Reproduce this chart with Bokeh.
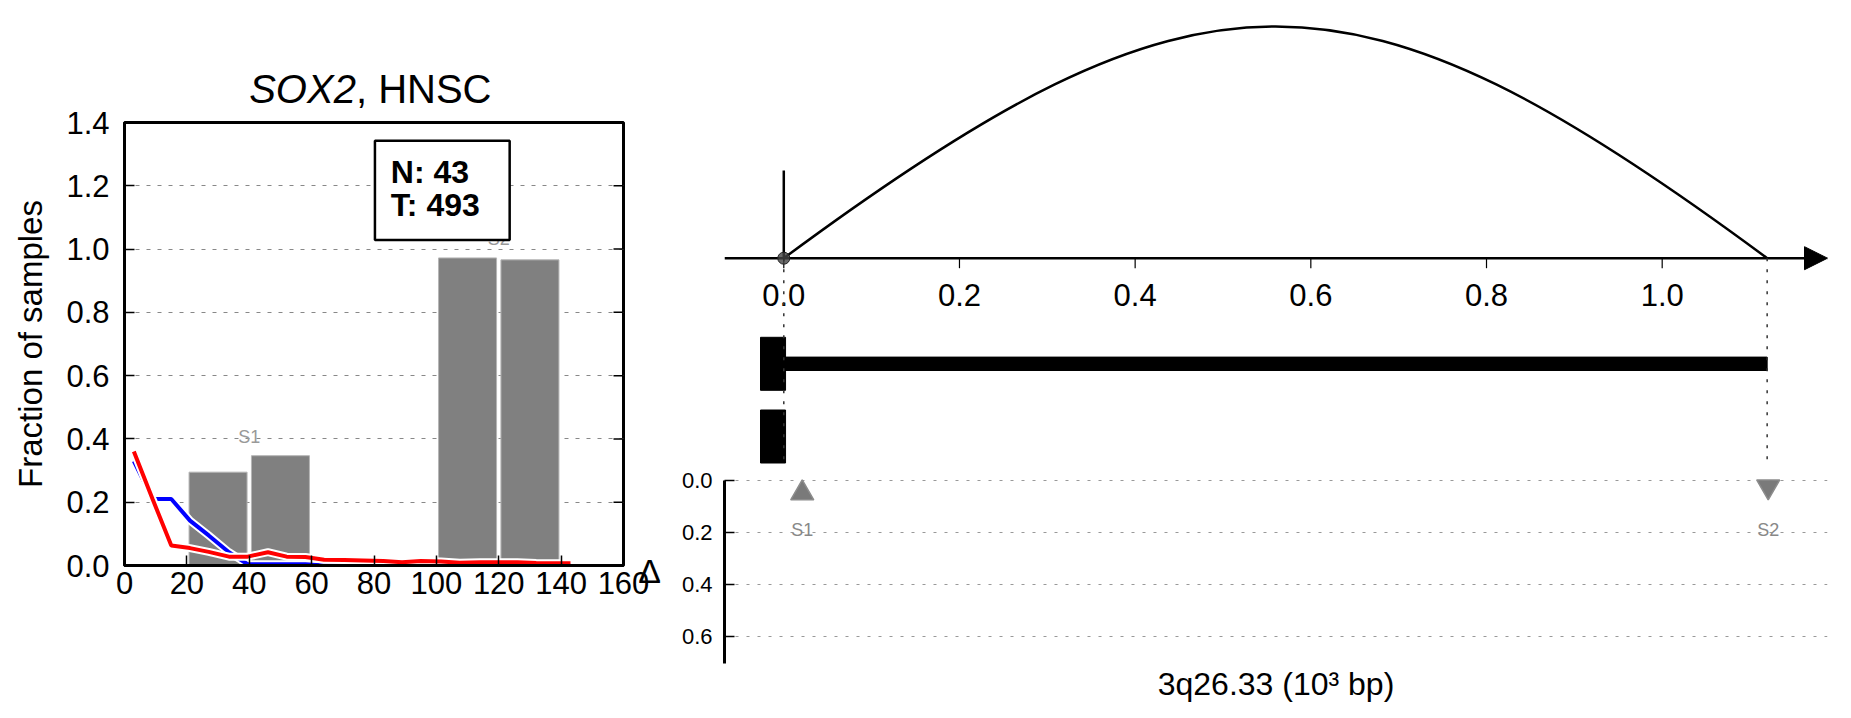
from bokeh.plotting import figure
from bokeh.layouts import row, column
from bokeh.models import Range1d, FixedTicker, Arrow, NormalHead, PrintfTickFormatter
from bokeh.core.properties import value
from bokeh.embed import file_html
from bokeh.resources import INLINE

FONT = "Liberation Sans"

# ---------------- left panel data ----------------
bin_x = [3, 9, 15, 21, 27, 33.5, 39.5, 46, 52, 58, 64, 70.5, 76.5, 83, 89, 95,
         101.5, 107.5, 114, 120, 126, 132, 138.5, 143]
normal_frac = [0.33, 0.21, 0.21, 0.142, 0.095, 0.042, 0.004, 0.004, 0.004, 0.004,
               0.0, 0.0, 0.0, 0.0, 0.0, 0.0, 0.0, 0.0, 0.0, 0.0, 0.0, 0.0, 0.0, 0.0]
tumor_frac = [0.36, 0.21, 0.063, 0.055, 0.043, 0.028, 0.028, 0.042, 0.028, 0.027,
              0.018, 0.017, 0.016, 0.014, 0.010, 0.014, 0.013, 0.009, 0.010, 0.010,
              0.010, 0.008, 0.007, 0.007]
seg_center = [30, 50, 110, 130]
seg_frac = [0.295, 0.347, 0.972, 0.966]
seg_label = ["S1", "S2"]
seg_label_x = [40, 120]
seg_label_y = [0.405, 1.031]
n_normal = 43
n_tumor = 493
gene = "SOX2"
cancer = "HNSC"
left_xticks = [0, 20, 40, 60, 80, 100, 120, 140, 160]
left_yticks = [0.0, 0.2, 0.4, 0.6, 0.8, 1.0, 1.2, 1.4]
grid_yticks = [0.2, 0.4, 0.6, 0.8, 1.0, 1.2]

# ---------------- right panel data ----------------
bp_pos = [0.0, 1.1195]          # breakpoints (10^3 bp)
bp_marker_x = [0.021, 1.1207]
bp_delta = [0.036, 0.036]
bp_names = ["S1", "S2"]
top_ticks = [0.0, 0.2, 0.4, 0.6, 0.8, 1.0]
top_tick_labels = ["0.0", "0.2", "0.4", "0.6", "0.8", "1.0"]
exon_start = [-0.0265, -0.0265]
exon_end = [0.002, 0.002]
exon_track = [0, 1]
cds_start = [0.0]
cds_end = [1.1195]
cds_track = [0]
delta_ticks = [0.0, 0.2, 0.4, 0.6]

# =============== LEFT TITLE STRIP ===============
TH = 112
OVL = 9     # the left plot overlaps the bottom of the title strip
tf = figure(width=650, height=TH, x_range=Range1d(0, 160), y_range=Range1d(0, TH),
            output_backend="svg", toolbar_location=None, x_axis_type=None, y_axis_type=None,
            min_border_left=124, min_border_right=27, min_border_top=0, min_border_bottom=0)
tf.outline_line_color = None
tf.grid.visible = False
tf.text(x=[74.2], y=[TH - 88], text=[gene], text_font=value(FONT), text_font_size="40px",
        text_font_style="italic", text_align="right", text_baseline="middle",
        text_color="black")
tf.text(x=[74.2], y=[TH - 88], text=[", " + cancer], text_font=value(FONT),
        text_font_size="40px", text_font_style="normal", text_align="left",
        text_baseline="middle", text_color="black")

# =============== LEFT FIGURE ===============
TOP = 19    # frame top lands at 122 px
p1 = figure(width=650, height=TOP + 443 + 45, x_range=Range1d(0, 160), y_range=Range1d(0, 1.4),
            output_backend="svg", toolbar_location=None,
            min_border_left=124, min_border_right=27, min_border_top=TOP,
            min_border_bottom=45, border_fill_color=None, margin=(-OVL, 0, 0, 0))
p1.outline_line_color = "black"
p1.outline_line_width = 3
p1.xgrid.visible = False
p1.ygrid.ticker = FixedTicker(ticks=grid_yticks)
p1.ygrid.grid_line_color = "#888888"
p1.ygrid.grid_line_dash = "4 7"
p1.ygrid.grid_line_width = 1

p1.xaxis.ticker = FixedTicker(ticks=left_xticks)
p1.yaxis.ticker = FixedTicker(ticks=left_yticks)
p1.yaxis.formatter = PrintfTickFormatter(format="%.1f")
for ax in (p1.xaxis[0], p1.yaxis[0]):
    ax.major_tick_in = 10
    ax.major_tick_out = 0
    ax.major_tick_line_width = 1.5
    ax.minor_tick_line_color = None
    ax.axis_line_width = 3
    ax.major_label_text_font = FONT
    ax.major_label_text_font_size = "31px"
    ax.major_label_text_color = "black"
p1.xaxis.major_label_standoff = 6
p1.yaxis.major_label_standoff = 15
p1.yaxis.axis_label = "Fraction of samples"
p1.yaxis.axis_label_text_font = FONT
p1.yaxis.axis_label_text_font_size = "33px"
p1.yaxis.axis_label_text_font_style = "normal"
p1.yaxis.axis_label_text_color = "black"
p1.yaxis.axis_label_standoff = 14

# mirrored inward ticks on the right edge
tick_len = 10 / 3.12
p1.segment(x0=[160] * len(left_yticks), y0=left_yticks,
           x1=[160 - tick_len] * len(left_yticks), y1=left_yticks,
           line_color="black", line_width=1.5)

# segment bars
p1.vbar(x=seg_center, top=seg_frac, width=18.6, bottom=0,
        fill_color="#808080", line_color="#b5b5b5", line_width=1)

# lines with white halo (drawn over the bars)
p1.line(bin_x, normal_frac, line_color="white", line_width=8)
p1.line(bin_x, normal_frac, line_color="#0000ff", line_width=4)
p1.line(bin_x, tumor_frac, line_color="white", line_width=8)
p1.line(bin_x, tumor_frac, line_color="#ff0000", line_width=4)

# segment labels
p1.text(x=seg_label_x, y=seg_label_y, text=seg_label, text_font=value(FONT),
        text_font_size="18px", text_color="#999999", text_align="center",
        text_baseline="middle")

# N/T box
p1.rect(x=[101.9], y=[1.1855], width=[43.2], height=[0.313], fill_color="white",
        line_color="black", line_width=2.5)
p1.text(x=[85.4, 85.4], y=[1.245, 1.140],
        text=["N: %d" % n_normal, "T: %d" % n_tumor], text_font=value(FONT),
        text_font_size="32px", text_font_style="bold", text_color="black",
        text_align="left", text_baseline="middle")

# =============== RIGHT TOP FIGURE ===============
SHIFT = 18   # right column overlaps the left one slightly (as in the reference)
xr = Range1d(-0.0675, 1.1882)
p2 = figure(width=1193 + SHIFT, height=466, x_range=xr, y_range=Range1d(-208.3, 249.7),
            output_backend="svg", toolbar_location=None, x_axis_type=None, y_axis_type=None,
            min_border_left=74 + SHIFT, min_border_right=16, min_border_top=8,
            min_border_bottom=0, border_fill_color=None)
p2.outline_line_color = None
p2.grid.visible = False

arc_h = 231.7
span = bp_pos[1] - bp_pos[0]
p2.bezier(x0=[bp_pos[0]], y0=[0], x1=[bp_pos[1]], y1=[0],
          cx0=[bp_pos[0] + 0.424 * span], cy0=[arc_h * 4 / 3],
          cx1=[bp_pos[0] + 0.576 * span], cy1=[arc_h * 4 / 3],
          line_color="black", line_width=2.5)
p2.segment(x0=[bp_pos[0]], y0=[0], x1=[bp_pos[0]], y1=[87.7],
           line_color="black", line_width=2.5)

axis_arrow = Arrow(end=NormalHead(size=23, fill_color="black", line_color="black"),
                   x_start=xr.start, y_start=0, x_end=xr.end, y_end=0,
                   line_color="black", line_width=2.5, level="underlay")
p2.add_layout(axis_arrow)

p2.segment(x0=top_ticks, y0=[0] * len(top_ticks), x1=top_ticks, y1=[-10] * len(top_ticks),
           line_color="black", line_width=1.2)
p2.text(x=top_ticks, y=[-36.3] * len(top_ticks), text=top_tick_labels,
        text_font=value(FONT), text_font_size="31px", text_color="black",
        text_align="center", text_baseline="middle")

p2.scatter(x=[bp_pos[0]], y=[0], marker="circle", size=12, fill_color="#444444",
           fill_alpha=0.8, line_color="#222222", line_width=1)

# gene model
track_y0 = -105.6
track_gap = 72.7
p2.quad(left=exon_start, right=exon_end,
        bottom=[track_y0 - track_gap * t - 26.5 for t in exon_track],
        top=[track_y0 - track_gap * t + 26.5 for t in exon_track],
        fill_color="black", line_color="black")
p2.quad(left=cds_start, right=cds_end,
        bottom=[track_y0 - track_gap * t - 6.7 for t in cds_track],
        top=[track_y0 - track_gap * t + 6.7 for t in cds_track],
        fill_color="black", line_color="black")

# dotted breakpoint guides
p2.segment(x0=bp_pos, y0=[0, 0], x1=bp_pos, y1=[-209, -209],
           line_color="#333333", line_width=1.5, line_dash="3 8")

# =============== RIGHT BOTTOM FIGURE ===============
p3 = figure(width=1193 + SHIFT, height=238, x_range=xr, y_range=Range1d(0.7017, -0.0115),
            output_backend="svg", toolbar_location=None,
            min_border_left=74 + SHIFT, min_border_right=16, min_border_top=11,
            min_border_bottom=40, border_fill_color=None)
p3.outline_line_color = None
p3.xgrid.visible = False
p3.ygrid.ticker = FixedTicker(ticks=delta_ticks)
p3.ygrid.grid_line_color = "#999999"
p3.ygrid.grid_line_dash = "3 8"
p3.ygrid.grid_line_width = 1

ya = p3.yaxis[0]
ya.ticker = FixedTicker(ticks=delta_ticks)
ya.formatter = PrintfTickFormatter(format="%.1f")
ya.bounds = (0, 0.7)
ya.axis_line_width = 3
ya.major_tick_in = 10
ya.major_tick_out = 0
ya.major_tick_line_width = 1.5
ya.minor_tick_line_color = None
ya.major_label_text_font = FONT
ya.major_label_text_font_size = "22px"
ya.major_label_text_color = "black"
ya.major_label_standoff = 12
ya.axis_label = "Δ"
ya.axis_label_orientation = "horizontal"
ya.axis_label_text_font = FONT
ya.axis_label_text_font_size = "34px"
ya.axis_label_text_font_style = "normal"
ya.axis_label_text_color = "black"
ya.axis_label_standoff = 18

xa = p3.xaxis[0]
xa.ticker = FixedTicker(ticks=[])
xa.axis_line_color = None
xa.major_tick_line_color = None
xa.minor_tick_line_color = None
xa.major_label_standoff = 0
xa.axis_label = "3q26.33 (10³ bp)"
xa.axis_label_text_font = FONT
xa.axis_label_text_font_size = "32px"
xa.axis_label_text_font_style = "normal"
xa.axis_label_text_color = "black"
xa.axis_label_standoff = 2

# breakpoint markers (offset compensates Bokeh's off-centre triangle geometry)
p3.scatter(x=[bp_marker_x[0]], y=[bp_delta[0] + 0.0127], marker="triangle", size=23,
           fill_color="#6b6b6b", fill_alpha=0.9, line_color="#8c8c8c", line_width=1.5)
p3.scatter(x=[bp_marker_x[1]], y=[bp_delta[1] - 0.0127], marker="inverted_triangle", size=23,
           fill_color="#6b6b6b", fill_alpha=0.9, line_color="#8c8c8c", line_width=1.5)
p3.text(x=bp_marker_x, y=[0.19, 0.19], text=bp_names, text_font=value(FONT),
        text_font_size="18px", text_color="#888888", text_align="center",
        text_baseline="middle")

right = column(p2, p3, margin=(0, 0, 0, -SHIFT))
layout = row(column(tf, p1), right)
open("out.html", "w").write(file_html(layout, INLINE))
